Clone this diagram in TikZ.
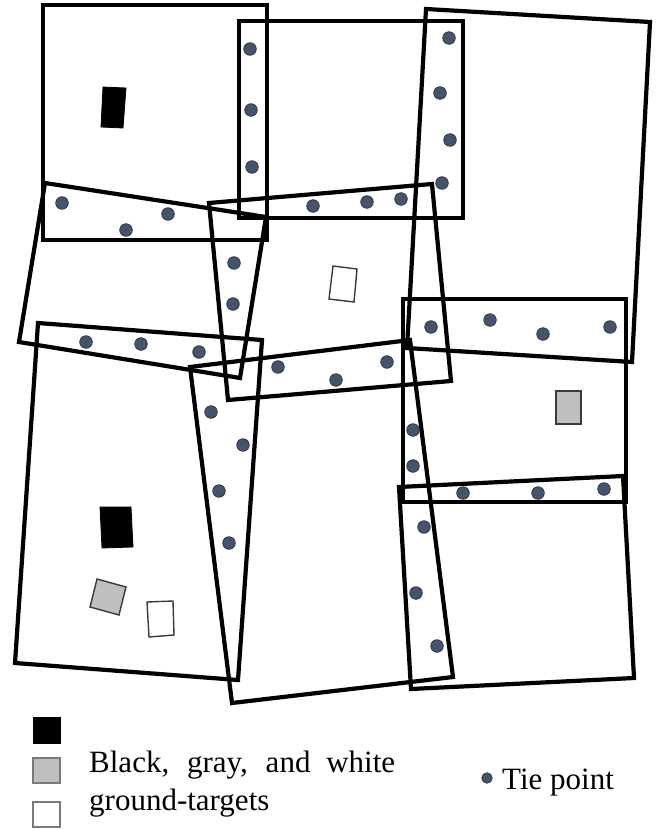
\documentclass[tikz,border=0pt]{standalone}
\usepackage{fontspec}
\setmainfont{Liberation Serif}
\definecolor{tiefill}{HTML}{44546A}
\definecolor{tieedge}{HTML}{2B3545}
\definecolor{tgtgray}{HTML}{BFBFBF}
\definecolor{tgtedge}{HTML}{3A3A3A}
\definecolor{legedge}{HTML}{7A7A7A}
\tikzset{
  frame/.style={draw=black, line width=4.2pt, line join=miter},
  tiept/.style={fill=tiefill, draw=tieedge, line width=0.7pt},
  tblack/.style={fill=black, draw=black, line width=0.8pt},
  tgray/.style={fill=tgtgray, draw=tgtedge, line width=1.4pt},
  twhite/.style={fill=white, draw=tgtedge, line width=1.4pt},
  legtext/.style={inner sep=0pt, anchor=base west, font=\fontsize{31}{37}\selectfont}
}
\begin{document}
\begin{tikzpicture}[x=1pt, y=-1pt]
\useasboundingbox (0,0) rectangle (658,830);
% image footprints
\draw[frame] (43,5) -- (267,5) -- (267,240) -- (43,240) -- cycle;      % A
\draw[frame] (239,21) -- (463,21) -- (463,218) -- (239,218) -- cycle;  % B
\draw[frame] (426,9) -- (650,22) -- (632,362) -- (407,348) -- cycle;   % C
\draw[frame] (209,203) -- (432,184) -- (451,381) -- (228,400) -- cycle;% D
\draw[frame] (403,299) -- (626,299) -- (626,502) -- (403,502) -- cycle;% E
\draw[frame] (399,487) -- (623,476) -- (634,678) -- (411,689) -- cycle;% F
\draw[frame] (190,367) -- (410,340) -- (453,677) -- (232,703) -- cycle;% H
\draw[frame] (45,183) -- (266,217) -- (240,378) -- (19,342) -- cycle;  % I
\draw[frame] (38,323) -- (262,340) -- (238,680) -- (15,663) -- cycle;  % J
% ground targets
\draw[tblack] (103,87) -- (126,88) -- (123,128) -- (101,127) -- cycle;
\draw[twhite] (333,266) -- (357,269) -- (354,302) -- (329,299) -- cycle;
\draw[tgray] (556,391) -- (581,391) -- (581,424) -- (556,424) -- cycle;
\draw[tblack] (100,507) -- (131,507) -- (133,547) -- (102,548) -- cycle;
\draw[tgray] (97,579) -- (126,587) -- (119,615) -- (90,607) -- cycle;
\draw[twhite] (147,602) -- (173,601) -- (174,635) -- (149,637) -- cycle;
% tie points
\foreach \p in {(250,49),(251,110),(252,167),(62,203),(168,214),(126,230),
  (313,206),(367,202),(401,199),(234,263),(233,304),(86,342),(141,344),
  (199,352),(449,38),(440,93),(450,140),(442,183),(431,327),(490,320),
  (543,334),(610,327),(278,367),(336,380),(387,362),(211,412),(243,445),
  (219,491),(229,543),(413,430),(413,466),(463,493),(538,493),(604,489),
  (424,527),(416,593),(437,646)}
  \draw[tiept] \p circle (6.3);
% legend
\draw[tblack] (33,717) rectangle (60,743);
\draw[fill=tgtgray, draw=legedge, line width=1.4pt] (33,758) rectangle (60,783);
\draw[fill=white, draw=legedge, line width=1.4pt] (33,802) rectangle (60,827);
\node[legtext] (lg1) at (89,772) {\makebox[306pt][s]{Black, gray, and white}};
\node[legtext] (lg2) at (89,810) {ground-targets};
\draw[tiept] (487,778) circle (5.3);
\node[legtext] (lg3) at (502,789) {Tie point};
\end{tikzpicture}
\end{document}
